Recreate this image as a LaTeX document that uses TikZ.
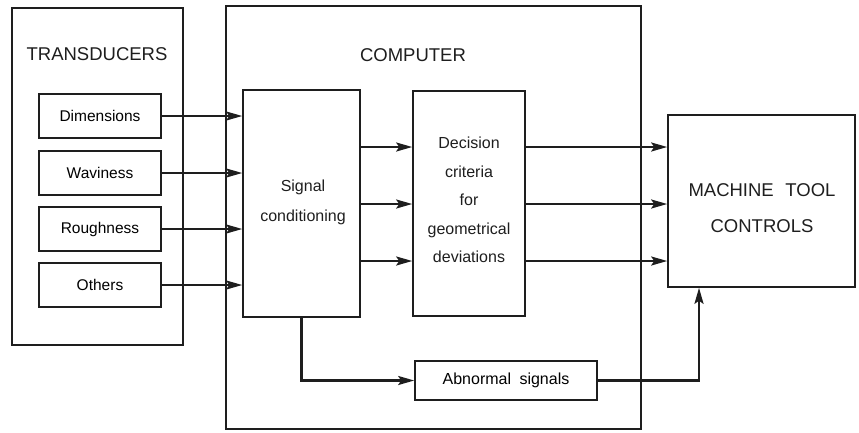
\documentclass[tikz,border=0pt]{standalone}
\usepackage{fontspec}
\setmainfont{Liberation Sans}
\usetikzlibrary{arrows.meta}
\definecolor{ink}{HTML}{1E1E1E}
\begin{document}
\begin{tikzpicture}[x=1pt,y=-1pt,
  box/.style={draw=ink, line width=1.6pt, inner sep=0pt},
  lbl/.style={text=ink, align=center, inner sep=0pt},
  small/.style={font=\fontsize{15.5}{29}\selectfont},
  big/.style={font=\fontsize{18.5}{36}\selectfont},
  flow/.style={draw=ink, line width=2.2pt, -{Stealth[length=16pt,width=9pt,inset=3pt]}},
  link/.style={draw=ink, line width=2.2pt}]
\useasboundingbox (0,0) rectangle (859,432);

% transducer column
\node[box, minimum width=171pt, minimum height=337pt] (trans) at (97.5,176.5) {};
\node[lbl, big] (transT) at (97,54) {TRANSDUCERS};
\node[box, small, minimum width=122pt, minimum height=44pt] (dim) at (100,116) {Dimensions};
\node[box, small, minimum width=122pt, minimum height=44pt] (wav) at (100,173) {Waviness};
\node[box, small, minimum width=122pt, minimum height=44pt] (rgh) at (100,229) {Roughness};
\node[box, small, minimum width=122pt, minimum height=44pt] (oth) at (100,285) {Others};

% computer
\node[box, minimum width=415pt, minimum height=423pt] (comp) at (433.5,217.5) {};
\node[lbl, big] (compT) at (413,55) {COMPUTER};
\node[box, minimum width=117pt, minimum height=227pt] (sig) at (301.5,203.5) {};
\node[lbl, font=\fontsize{16}{30}\selectfont] (sigT) at (303,202) {Signal\\conditioning};
\node[box, minimum width=112pt, minimum height=225pt] (dec) at (469,203.5) {};
\node[lbl, font=\fontsize{16}{28.5}\selectfont] (decT) at (469,200) {Decision\\criteria\\for\\geometrical\\deviations};
\node[box, font=\fontsize{16}{29}\selectfont, minimum width=182pt, minimum height=39pt] (abn) at (506,380.5) {Abnormal \hspace{0.25em}signals};

% machine tool controls
\node[box, minimum width=187pt, minimum height=172pt] (mtc) at (761.5,201) {};
\node[lbl, big] (mtcT) at (762,208) {MACHINE \hspace{0.35em}TOOL\\CONTROLS};

% connectors
\foreach \n in {dim,wav,rgh,oth}
  \draw[flow] (\n.east) -- (\n.east -| sig.west);

\foreach \y in {147,204,261} {
  \coordinate (a\y) at (sig.east |- 0,\y);
  \draw[flow] (a\y) -- (a\y -| dec.west);
  \coordinate (b\y) at (dec.east |- 0,\y);
  \draw[flow] (b\y) -- (b\y -| mtc.west);
}

\draw[flow] (sig.south) |- (abn.west);
\coordinate (up) at (699,380.5);
\draw[flow] (abn.east) -- (up) -- (up |- mtc.south);
\end{tikzpicture}
\end{document}
